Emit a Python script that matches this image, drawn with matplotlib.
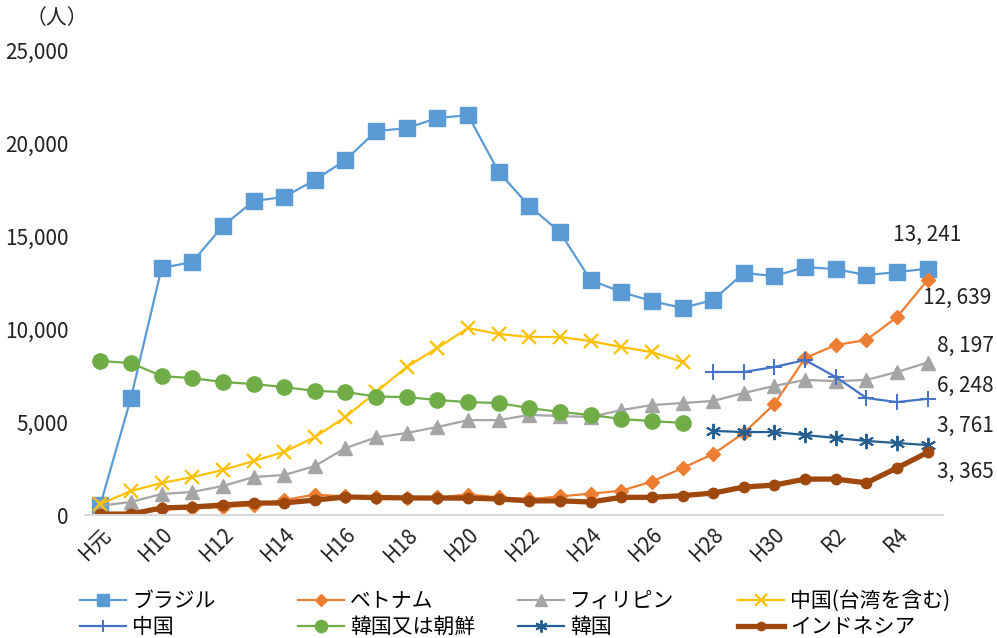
import matplotlib
matplotlib.use("Agg")
import matplotlib.pyplot as plt
import numpy as np
from matplotlib import font_manager

names = {f.name for f in font_manager.fontManager.ttflist}
num_font = ['Liberation Sans Narrow', 'Noto Sans CJK JP'] if 'Liberation Sans Narrow' in names else ['Noto Sans CJK JP']
plt.rcParams['font.family'] = ['Noto Sans CJK JP', 'DejaVu Sans']

categories = ["H元", "H5", "H10", "H11", "H12", "H13", "H14", "H15", "H16", "H17", "H18", "H19",
              "H20", "H21", "H22", "H23", "H24", "H25", "H26", "H27", "H28", "H29", "H30",
              "R元", "R2", "R3", "R4", "R5"]
tick_labels = ["H元", "H10", "H12", "H14", "H16", "H18", "H20", "H22", "H24", "H26", "H28", "H30", "R2", "R4"]

brazil = [540, 6290, 13280, 13600, 15540, 16880, 17100, 18010, 19080, 20640, 20800, 21340,
          21500, 18440, 16610, 15210, 12630, 11990, 11500, 11130, 11560, 13010, 12850,
          13330, 13220, 12900, 13060, 13241]
vietnam = [80, 100, 300, 350, 420, 520, 800, 1100, 1000, 950, 900, 950,
           1100, 950, 850, 1000, 1150, 1300, 1800, 2527, 3280, 4410, 5970,
           8440, 9140, 9410, 10640, 12639]
philippines = [500, 700, 1130, 1240, 1560, 2040, 2150, 2630, 3600, 4170, 4410, 4730,
               5100, 5100, 5380, 5320, 5270, 5640, 5910, 6020, 6130, 6560, 6940,
               7260, 7200, 7260, 7690, 8197]
china_tw = [590, 1290, 1720, 2040, 2420, 2900, 3390, 4190, 5270, 6610, 7960, 8980,
            10050, 9730, 9570, 9570, 9350, 9030, 8760, 8220] + [None] * 8
china = [None] * 20 + [7690, 7690, 7960, 8330, 7420, 6290, 6070, 6248]
korea_nk = [8280, 8170, 7470, 7360, 7150, 7040, 6880, 6670, 6610, 6370, 6340, 6180,
            6070, 6020, 5750, 5540, 5380, 5160, 5050, 4950] + [None] * 8
korea = [None] * 20 + [4520, 4460, 4460, 4300, 4140, 3980, 3870, 3761]
indonesia = [50, 50, 380, 430, 540, 640, 650, 800, 970, 940, 920, 910,
             910, 860, 760, 760, 700, 950, 950, 1040, 1180, 1500, 1610,
             1930, 1930, 1730, 2530, 3365]

end_labels = ["13, 241", "12, 639", "8, 197", "6, 248", "3, 761", "3, 365"]

def arr(v):
    return np.array([np.nan if a is None else a for a in v], dtype=float)

x = np.arange(len(categories))

fig = plt.figure(figsize=(9.97, 6.38), dpi=100)
ax = fig.add_axes([85/997, 1 - 515/638, (943 - 85)/997, (515 - 50)/638])

series = [
    ("ブラジル", brazil, dict(color="#5B9BD5", marker="s", ms=11, lw=1.6, mec="#5B9BD5")),
    ("ベトナム", vietnam, dict(color="#ED7D31", marker="D", ms=7.5, lw=1.6)),
    ("フィリピン", philippines, dict(color="#A5A5A5", marker="^", ms=10, lw=1.6)),
    ("中国(台湾を含む)", china_tw, dict(color="#FFC000", marker="x", ms=10, mew=1.6, lw=1.6)),
    ("中国", china, dict(color="#4472C4", marker="+", ms=11, mew=1.4, lw=1.6)),
    ("韓国又は朝鮮", korea_nk, dict(color="#70AD47", marker="o", ms=11, lw=1.6)),
    ("韓国", korea, dict(color="#255E91", marker=(6, 2, 0), ms=11, mew=1.4, lw=1.6)),
    ("インドネシア", indonesia, dict(color="#9E480E", marker="o", ms=7.5, lw=3.8)),
]

handles = []
for name, vals, kw in series:
    h, = ax.plot(x, arr(vals), label=name, **kw)
    handles.append(h)

ax.set_xlim(-0.5, len(categories) - 0.5)
ax.set_ylim(0, 25000)
ax.set_yticks(np.arange(0, 25001, 5000))
ax.set_yticklabels([f"{v:,}" for v in range(0, 25001, 5000)], family=num_font, fontsize=15, color="#222222")
ax.set_xticks(x[::2])
ax.set_xticklabels(tick_labels, rotation=45, ha="right", va="top", rotation_mode="anchor",
                   fontsize=15, color="#222222", family=num_font + ['Noto Sans CJK JP'])
ax.tick_params(axis="y", length=0, pad=12)
ax.tick_params(axis="x", length=0, pad=6)
for s in ["top", "right", "left"]:
    ax.spines[s].set_visible(False)
ax.spines["bottom"].set_color("#D9D9D9")
ax.spines["bottom"].set_linewidth(1.5)

fig.text(26/997, 1 - 18/638, "（人）", fontsize=15, ha="left", va="center", color="#222222")

last = len(categories) - 1
offsets = [(0, 34), (30, -18), (38, 17), (38, 13), (38, 19), (38, -20)]
end_vals = [brazil[-1], vietnam[-1], philippines[-1], china[-1], korea[-1], indonesia[-1]]
for lab, v, off in zip(end_labels, end_vals, offsets):
    ax.annotate(lab, xy=(last, v), xytext=off, textcoords="offset pixels",
                ha="center", va="center", fontsize=15, family=num_font, color="#222222",
                annotation_clip=False)

col_x = [80, 298, 518, 738]
for c in range(4):
    hs = [handles[c], handles[c + 4]]
    ls = [series[c][0], series[c + 4][0]]
    lg = fig.legend(hs, ls, loc="upper left", bbox_to_anchor=(col_x[c]/997, 1 - 590/638),
                    ncol=1, frameon=False, fontsize=15, handlelength=2.2, markerscale=0.8,
                    handletextpad=0.3, labelspacing=0.2, borderaxespad=0, borderpad=0)

fig.savefig("out.png", dpi=100)
